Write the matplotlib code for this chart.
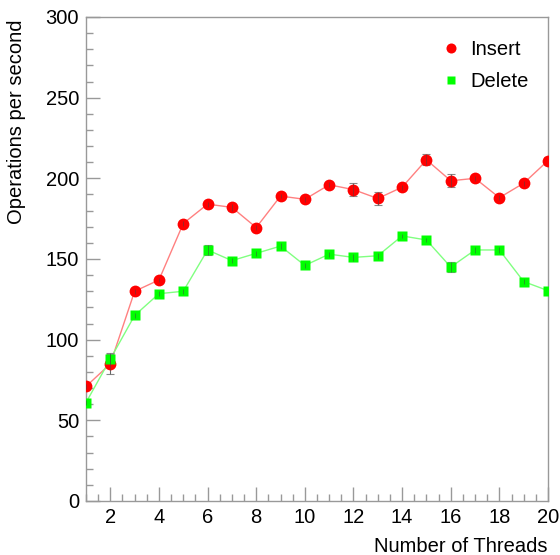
import numpy as np
import matplotlib
matplotlib.use('Agg')
from matplotlib import pyplot as plt
from matplotlib.ticker import MultipleLocator

plt.rcParams['font.family'] = ['Liberation Sans', 'DejaVu Sans']

threads = list(range(1, 21))
insert_ops = [71, 85, 130, 137, 172, 184, 182, 169.5, 189, 187,
              196, 193, 187.5, 194.5, 211.5, 198.5, 200, 188, 197, 211]
insert_err = [1.5, 6.5, 1.5, 1.5, 1.5, 1.5, 2, 1.5, 1.5, 1.5,
              1.5, 4, 4, 1.5, 3.4, 4, 1.5, 1.5, 1.5, 2.5]
delete_ops = [61, 88, 115, 128.5, 130, 155.6, 149, 153.5, 158, 146,
              153, 151, 152, 164.3, 161.8, 145, 155.6, 155.6, 136, 130.4]
delete_err = [1.5, 3, 1.5, 1.5, 1.5, 3, 1.5, 1.5, 2, 1.5,
              1.5, 2, 2, 1.5, 1.5, 3, 2, 2, 1.5, 1.5]

fs = 14.5

fig = plt.figure(figsize=(5.6, 5.55), dpi=100)
ax = fig.add_axes([86 / 560, 1 - 501 / 555, 462 / 560, 484 / 555])

ax.plot(threads, insert_ops, color='#ff8080', lw=1.0, zorder=2)
ax.plot(threads, delete_ops, color='#80ff80', lw=1.0, zorder=2)
# caps below the markers, so only the big errors show them
ax.errorbar(threads, insert_ops, yerr=insert_err, fmt='none', ecolor='#888888',
            elinewidth=0.8, capsize=3, capthick=0.8, zorder=2.5)
ax.errorbar(threads, delete_ops, yerr=delete_err, fmt='none', ecolor='#888888',
            elinewidth=0.8, capsize=3, capthick=0.8, zorder=2.5)
ax.plot(threads, insert_ops, 'o', color='#ff0000', ms=8.5, mec='none', zorder=3, label='Insert')
ax.plot(threads, delete_ops, 's', color='#00ff00', ms=7.2, mec='none', zorder=4, label='Delete')
# thin bar line drawn through the markers
ax.errorbar(threads, insert_ops, yerr=insert_err, fmt='none', ecolor='#444444',
            elinewidth=0.7, alpha=0.5, zorder=5)
ax.errorbar(threads, delete_ops, yerr=delete_err, fmt='none', ecolor='#444444',
            elinewidth=0.7, alpha=0.5, zorder=5)

ax.set_xlim(1, 20)
ax.set_ylim(0, 300)
ax.xaxis.set_major_locator(MultipleLocator(2))
ax.xaxis.set_minor_locator(MultipleLocator(0.5))
ax.yaxis.set_major_locator(MultipleLocator(50))
ax.yaxis.set_minor_locator(MultipleLocator(10))

for s in ax.spines.values():
    s.set_color('#999999')
    s.set_linewidth(1.0)
ax.tick_params(which='both', direction='in', color='#999999', top=False, right=False,
               labelsize=fs)
ax.tick_params(which='major', length=10, width=1.0)
ax.tick_params(which='minor', length=5, width=1.0)
ax.tick_params(axis='x', pad=5)
ax.tick_params(axis='y', pad=5)

ax.set_xlabel('Number of Threads', fontsize=fs, loc='right')
ax.set_ylabel('Operations per second', fontsize=fs, loc='top')
ax.xaxis.set_label_coords(1.0, -0.074)
ax.yaxis.set_label_coords(-0.13, 0.994)

ax.legend(loc='upper left', bbox_to_anchor=((439 - 86) / 462, 0.952), frameon=False,
          fontsize=fs, borderaxespad=0, borderpad=0, handletextpad=0.35,
          labelspacing=0.65, markerscale=0.85, handlelength=1.2)

fig.savefig('out.png', dpi=100)
